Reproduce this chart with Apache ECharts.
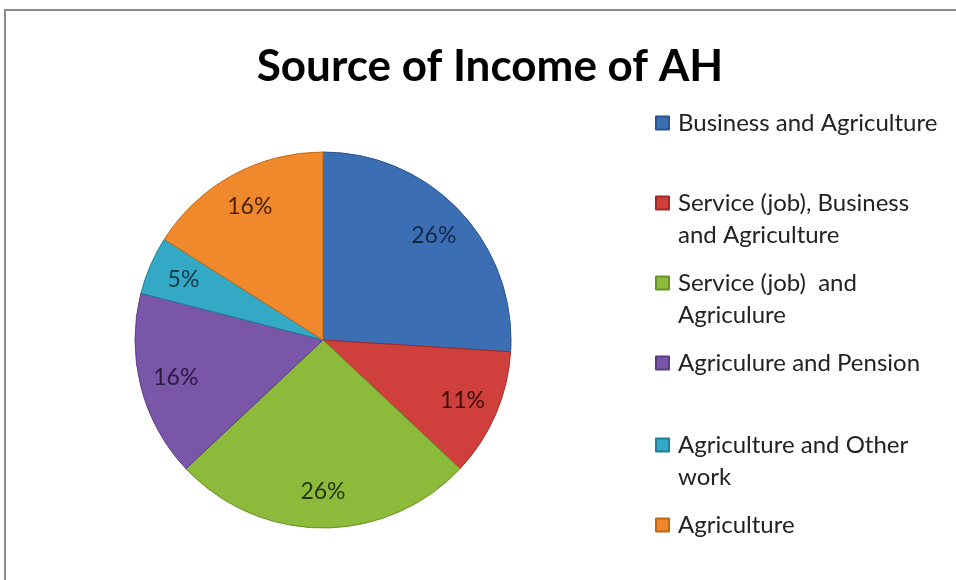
<!DOCTYPE html>
<html><head><meta charset="utf-8">
<script src="https://cdn.jsdelivr.net/npm/echarts@6/dist/echarts.min.js"></script>
<style>html,body{margin:0;padding:0;background:#fff}#c{width:956px;height:580px}</style>
</head><body><div id="c"></div>
<script>
const titleText = 'Source of Income of AH';
const categories = ['Business and Agriculture','Service (job), Business and Agriculture','Service (job) and Agriculure','Agriculure and Pension','Agriculture and Other work','Agriculture'];
const legendLines = [['Business and Agriculture'],['Service (job), Business','and Agriculture'],['Service (job)  and','Agriculure'],['Agriculure and Pension'],['Agriculture and Other','work'],['Agriculture']];
const values = [26, 11, 26, 16, 5, 16];
const colors = ['#3c6eb4','#cf403d','#8cba3a','#7a56a8','#34a9c5','#f0892c'];
const edgeColors = ['#2a5590','#9e2b28','#6a9128','#5a3d82','#227e96','#c06818'];
const labelColors = ['#15284a','#3d0e0c','#26360c','#2a1a42','#0d3a46','#4a2306'];

const font = 'Lato, "Open Sans", sans-serif';
const legendTops = [107, 155, 235, 347, 397, 509];

const legends = categories.map((name, i) => {
  const lines = legendLines[i];
  // for two-line names, a blank leading line keeps the first line level with the marker
  const text = lines.length > 1 ? ' \n' + lines.join('\n') : lines[0];
  return {
    show: true, orient: 'vertical', left: 655, top: legendTops[i], padding: 0,
    icon: 'rect', itemWidth: 13, itemHeight: 13, selectedMode: false,
    formatter: () => text,
    data: [name],
    textStyle: { fontFamily: font, fontSize: 24, color: '#222', lineHeight: 32, padding: [0, 0, 0, 4] }
  };
});

const pieData = categories.map((name, i) => ({
  name: name, value: values[i],
  itemStyle: { color: colors[i], borderColor: edgeColors[i], borderWidth: 1 },
  label: { color: labelColors[i] }
}));
const labelData = categories.map((name, i) => ({
  name: name, value: values[i],
  itemStyle: { color: 'rgba(0,0,0,0)' },
  label: { color: labelColors[i] }
}));

const chart = echarts.init(document.getElementById('c'), null, { renderer: 'canvas' });
chart.setOption({
  backgroundColor: '#fff',
  animation: false,
  title: {
    text: titleText, left: 485, top: 40, textAlign: 'center',
    textStyle: { fontFamily: font, fontSize: 44, fontWeight: 'bold', color: '#000' }
  },
  legend: legends,
  graphic: [{
    type: 'rect', shape: { x: 5, y: 10, width: 1000, height: 700 },
    style: { fill: 'none', stroke: '#8c8c8c', lineWidth: 2 }, silent: true, z: 100
  }],
  series: [{
    type: 'pie', center: [323, 340], radius: [0, 188], startAngle: 90, clockwise: true,
    data: pieData, label: { show: false }, labelLine: { show: false },
    emphasis: { disabled: true }, silent: true
  }, {
    type: 'pie', center: [323, 340], radius: [110, 188], startAngle: 90, clockwise: true,
    data: labelData, silent: true, emphasis: { disabled: true },
    label: { show: true, position: 'inside', formatter: '{c}%', fontFamily: font, fontSize: 23 },
    labelLine: { show: false }
  }]
});
</script></body></html>
